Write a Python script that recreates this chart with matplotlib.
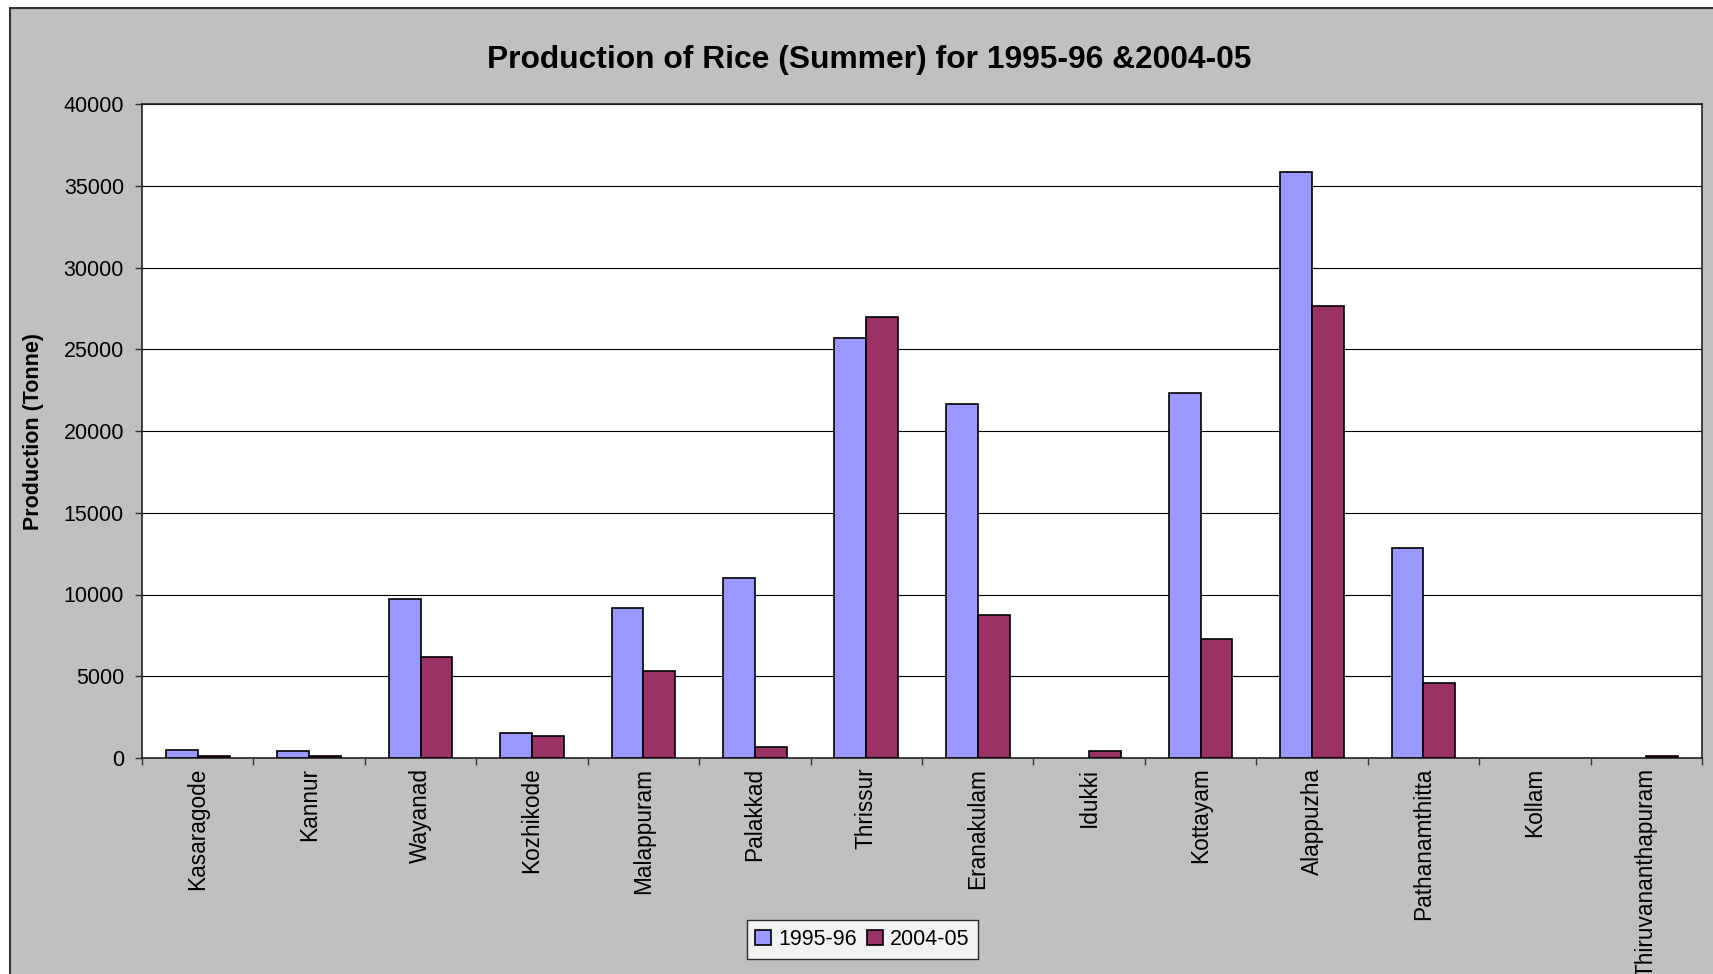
import matplotlib
matplotlib.use("Agg")
import matplotlib.pyplot as plt
import matplotlib.patches as mpatches
import numpy as np

plt.rcParams['font.family'] = ['Liberation Sans', 'DejaVu Sans']

districts = ["Kasaragode", "Kannur", "Wayanad", "Kozhikode", "Malappuram", "Palakkad",
             "Thrissur", "Eranakulam", "Idukki", "Kottayam", "Alappuzha", "Pathanamthitta",
             "Kollam", "Thiruvananthapuram"]
prod_1995 = [500, 400, 9700, 1500, 9150, 11000, 25700, 21650, 0, 22350, 35850, 12850, 0, 0]
prod_2004 = [120, 100, 6200, 1350, 5350, 700, 26950, 8750, 400, 7300, 27650, 4600, 0, 100]
series_names = ["1995-96", "2004-05"]
title = "Production of Rice (Summer) for 1995-96 &2004-05"
ylabel = "Production (Tonne)"

W, H = 1713, 974
fig = plt.figure(figsize=(W / 100, H / 100), dpi=100, facecolor="white")

# gray chart area with dark border (extends past right/bottom edges)
x0 = 10 / W
ytop = 1 - 8 / H
frame = mpatches.Rectangle((x0, -0.2), 1.3, ytop + 0.2, transform=fig.transFigure,
                           facecolor="#C0C0C0", edgecolor="#333333", linewidth=1.5,
                           zorder=-10)
fig.patches.append(frame)

ax = fig.add_axes([142 / W, (H - 758) / H, (1702 - 142) / W, (758 - 104) / H])
ax.set_facecolor("white")

x = np.arange(len(districts))
w = 1 / 3.5
b1 = ax.bar(x - w / 2, prod_1995, width=w, color="#9999FF", edgecolor="black",
            linewidth=1.2, label=series_names[0], zorder=3)
b2 = ax.bar(x + w / 2, prod_2004, width=w, color="#993366", edgecolor="black",
            linewidth=1.2, label=series_names[1], zorder=3)
for bars, vals in ((b1, prod_1995), (b2, prod_2004)):
    for r, v in zip(bars, vals):
        if v == 0:
            r.set_visible(False)

ax.set_xlim(-0.5, len(districts) - 0.5)
ax.set_ylim(0, 40000)
ax.set_yticks(np.arange(0, 40001, 5000))
ax.yaxis.grid(True, color="black", linewidth=0.8, zorder=0)
ax.set_axisbelow(True)

ax.set_xticks(np.arange(-0.5, len(districts), 1.0))
ax.set_xticklabels([])
ax.set_xticks(x, minor=True)
ax.set_xticklabels(districts, minor=True, rotation=90, ha="center", va="top",
                   fontsize=16.3)
ax.tick_params(axis="x", which="minor", length=0, pad=7)
ax.tick_params(axis="x", which="major", length=5, width=1, color="#333333", direction="out")
ax.tick_params(axis="y", length=5, width=1, color="#333333", direction="out",
               labelsize=15.5, pad=8)

for s in ax.spines.values():
    s.set_color("#222222")
    s.set_linewidth(1.2)

fig.text(869.5 / W, 1 - 60 / H, title, ha="center", va="center", fontsize=22.9,
         fontweight="bold")
fig.text(34 / W, 1 - 431 / H, ylabel, ha="center", va="center", rotation=90,
         fontsize=15.5, fontweight="bold")

leg = ax.legend(loc="center", bbox_to_anchor=(862.5 / W, 1 - 939.5 / H),
                bbox_transform=fig.transFigure, ncol=2, fontsize=15.5,
                frameon=True, fancybox=False, edgecolor="black",
                handlelength=0.7, handleheight=0.7, handletextpad=0.35,
                columnspacing=0.5, borderpad=0.4, borderaxespad=0)
leg.get_frame().set_linewidth(1.0)
leg.get_frame().set_facecolor("white")

fig.savefig("out.png", dpi=100, facecolor=fig.get_facecolor())
